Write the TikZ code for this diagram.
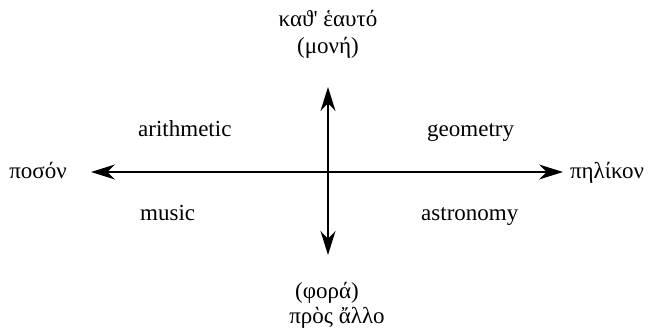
\documentclass[tikz,border=0pt]{standalone}
\usepackage{fontspec}
\setmainfont{Liberation Serif}
\newfontfamily\plainserif{Liberation Serif}
\usetikzlibrary{arrows.meta}
\begin{document}
\begin{tikzpicture}[x=1pt,y=-1pt,
  lbl/.style={inner sep=0pt,font=\fontsize{23}{27}\selectfont},
  axis/.style={line width=1.7pt,{Stealth[length=24pt,width=15pt]}-{Stealth[length=24pt,width=15pt]}}]
\useasboundingbox (0,0) rectangle (652,336);
\coordinate (top) at (328,87);
\coordinate (bot) at (328,255);
\coordinate (left) at (91,172);
\coordinate (right) at (563,172);
\draw[axis] (top) -- (bot);
\draw[axis,line width=1.3pt] (left) -- (right);
\node[lbl] (t1) at (328,19) {καϑ{\plainserif '} ἑαυτό};
\node[lbl] (t2) at (328,48) {(μονή)};
\node[lbl] (b1) at (327,293) {(φορά)};
\node[lbl] (b2) at (337,318) {πρὸς ἄλλο};
\node[lbl,anchor=base] (l) at (38,179) {ποσόν};
\node[lbl,anchor=base] (r) at (607,179) {πηλίκον};
\node[lbl,anchor=base west] (ar) at (138,137) {arithmetic};
\node[lbl,anchor=base west] (mu) at (140,221) {music};
\node[lbl,anchor=base west] (ge) at (427,137) {geometry};
\node[lbl,anchor=base west] (as) at (421,221) {astronomy};
\end{tikzpicture}
\end{document}
